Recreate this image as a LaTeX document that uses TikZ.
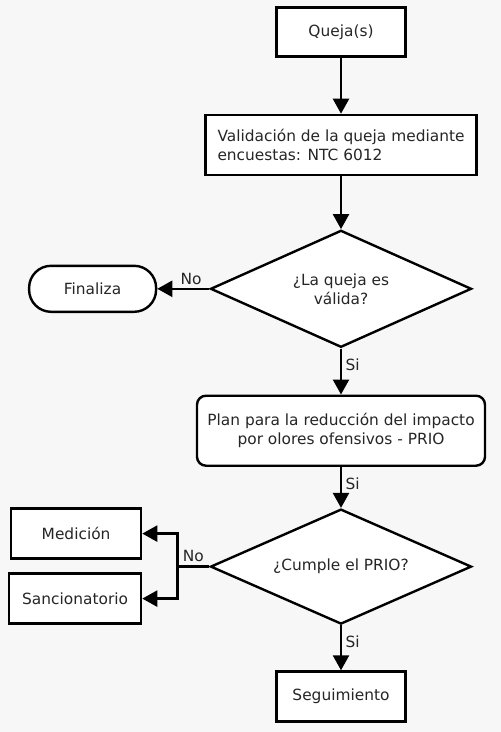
\documentclass[tikz,border=0pt]{standalone}
\usepackage{fontspec}
\setmainfont{DejaVu Sans}
\usepackage{tikz}
\usetikzlibrary{positioning,arrows.meta,shapes.geometric}
\usepackage{xcolor}
\definecolor{bggray}{HTML}{F7F7F7}
\definecolor{textgray}{HTML}{262626}

\begin{document}
\begin{tikzpicture}[
    x=1pt, y=1pt,
    node distance=50pt and 52pt,
    box/.style={rectangle, draw, line width=2.4pt, fill=white, minimum height=49pt,
                align=center, font=\fontsize{15.4}{19}\selectfont, text=textgray},
    decision/.style={diamond, draw, line width=2.4pt, fill=white, aspect=2.2,
                     minimum width=261pt, minimum height=117pt, inner sep=0pt,
                     align=center, font=\fontsize{15.4}{19}\selectfont, text=textgray},
    arrow/.style={-{Triangle[length=15pt, width=16pt]}, line width=2.4pt},
    lbl/.style={font=\fontsize{15.4}{18}\selectfont, text=textgray},
]
  \fill[bggray] (0,0) rectangle (501,-732);
  \useasboundingbox (0,0) rectangle (501,-732);

  \node[box, minimum width=129pt] (queja) at (341,-32) {Queja(s)};
  \node[box, minimum width=271pt, minimum height=60pt, align=left, below=56pt of queja] (valid)
    {Validación de la queja mediante\\encuestas: NTC 6012};
  \node[decision, below=53pt of valid] (valida) {¿La queja es\\válida?};
  \node[box, minimum width=127pt, minimum height=46pt, rounded corners=22pt, left=52pt of valida] (fin) {Finaliza};
  \node[box, minimum width=288pt, minimum height=70pt, rounded corners=9pt, below=46pt of valida] (plan)
    {Plan para la reducción del impacto\\por olores ofensivos - PRIO};
  \node[decision, minimum height=115pt, below=41pt of plan] (cumple) {¿Cumple el PRIO?};
  \node[box, minimum width=129pt, minimum height=50pt, below=45pt of cumple] (seg) {Seguimiento};
  \node[box, minimum width=130pt, minimum height=50pt, left=67pt of cumple, yshift=33pt] (medicion) {Medición};
  \node[box, minimum width=132pt, minimum height=50pt, left=67pt of cumple, yshift=-32pt] (sancion) {Sancionatorio};

  \draw[arrow] (queja) -- (valid);
  \draw[arrow] (valid) -- (valida);
  \draw[arrow] (valida) -- node[lbl, above, pos=0.35] {No} (fin);
  \draw[arrow] (valida) -- node[lbl, right, pos=0.36] {Si} (plan);
  \draw[arrow] (plan) -- node[lbl, right, pos=0.4] {Si} (cumple);
  \draw[arrow] (cumple) -- node[lbl, right, pos=0.36] {Si} (seg);

  \draw[line width=2.4pt] (cumple.west) -- node[lbl, above] {No} ++(-32,0) coordinate (split);
  \draw[arrow] (split) |- (medicion);
  \draw[arrow] (split) |- (sancion);
\end{tikzpicture}
\end{document}
